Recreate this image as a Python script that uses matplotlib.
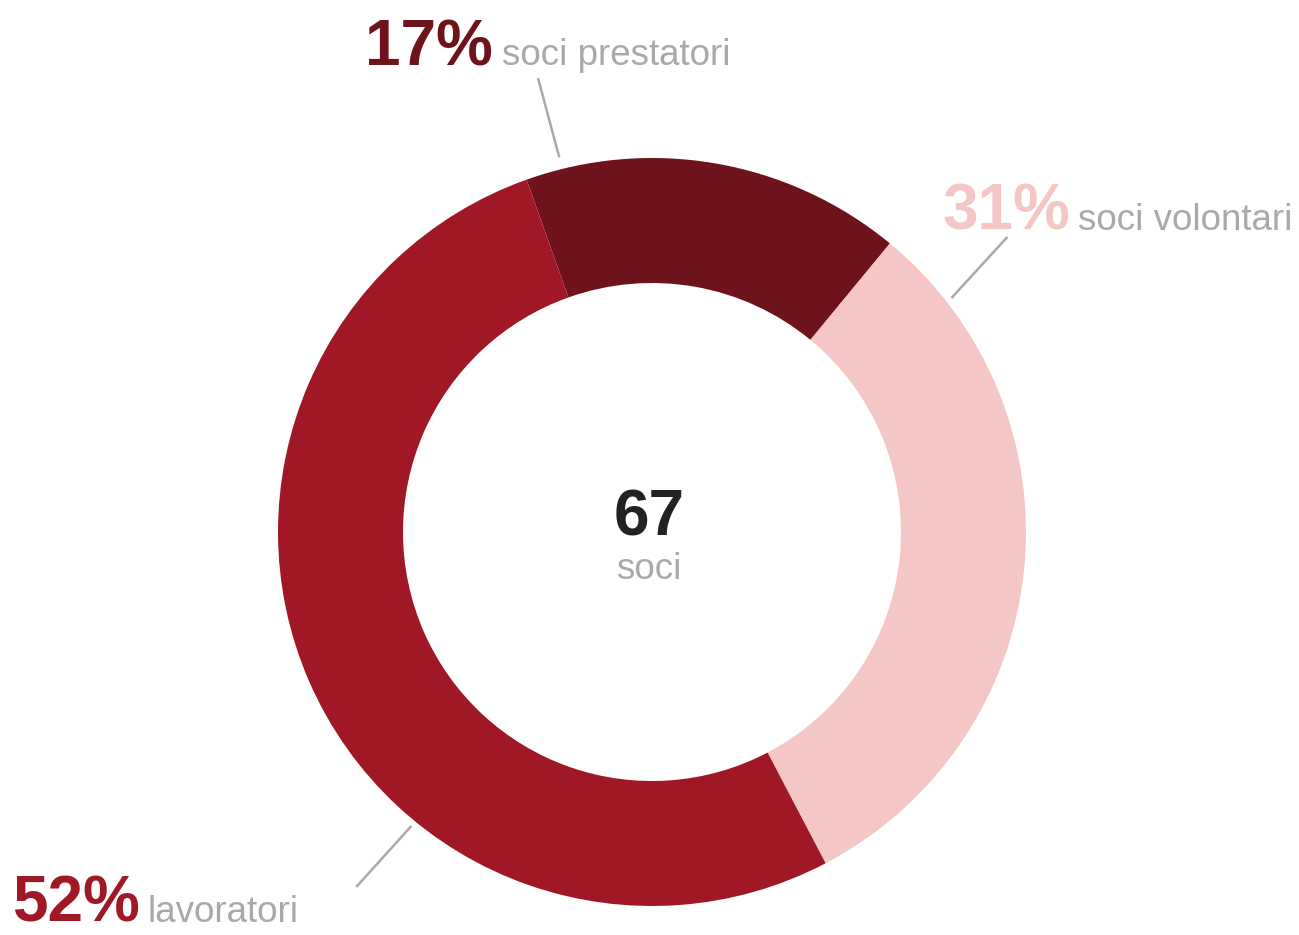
import numpy as np
import matplotlib
matplotlib.use("Agg")
import matplotlib.pyplot as plt

plt.rcParams['font.family'] = ['Liberation Sans', 'DejaVu Sans']

# data
labels = ['soci prestatori', 'soci volontari', 'lavoratori']
counts = [11, 21, 35]
percents = ['17%', '31%', '52%']
colors = ['#6e121c', '#f5c6c6', '#a01826']
total = 67
total_label = 'soci'

W, H = 1299, 935
fig = plt.figure(figsize=(W / 100, H / 100), dpi=100)
ax = fig.add_axes([0, 0, 1, 1])

cx, cy = 652, H - 532   # centre of the ring in pixels
R = 374
ring = 125

ax.pie(counts, colors=colors, startangle=109.6, counterclock=False,
       center=(cx, cy), radius=R,
       wedgeprops=dict(width=ring, edgecolor='none', linewidth=0))
ax.set_xlim(0, W)
ax.set_ylim(0, H)
ax.set_aspect('equal')
ax.axis('off')

gray = '#a9a9ac'

# leader lines: (angle clockwise from top, radius) for inner and outer end
line_ends = [((-13.9, 386), (-14.1, 468)),
             ((52.0, 380), (50.3, 462)),
             ((219.3, 380), (219.8, 462))]
for (a1, r1), (a2, r2) in line_ends:
    t = np.radians(90 - np.array([a1, a2]))
    r = np.array([r1, r2])
    ax.plot(cx + r * np.cos(t), cy + r * np.sin(t), color=gray, lw=1.8,
            solid_capstyle='butt')

# label positions (left x, baseline y in pixels from top)
pct_pos = [(365, 65), (942, 230), (12, 922)]
name_x = [502, 1078, 148]
for i in range(3):
    px, py = pct_pos[i]
    ax.text(px, H - py, percents[i], fontsize=46, fontweight='bold',
            color=colors[i], ha='left', va='baseline')
    ax.text(name_x[i], H - py, labels[i], fontsize=26.5, color=gray,
            ha='left', va='baseline')

# centre text
ax.text(649, H - 535, str(total), fontsize=46, fontweight='bold',
        color='#222222', ha='center', va='baseline')
ax.text(649, H - 579, total_label, fontsize=26.5, color=gray,
        ha='center', va='baseline')

fig.savefig('out.png', dpi=100)
